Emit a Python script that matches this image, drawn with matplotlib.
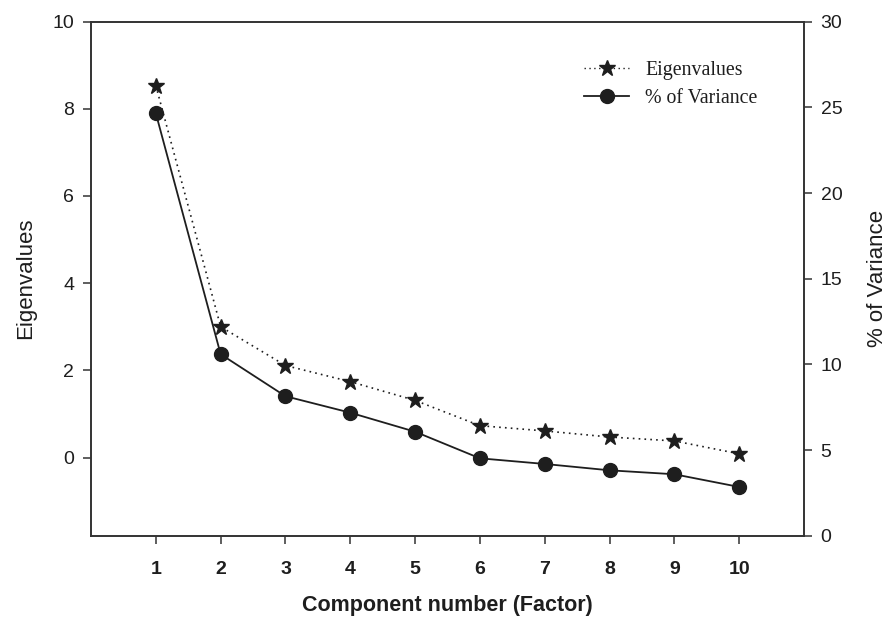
import numpy as np
import matplotlib.pyplot as plt
from matplotlib.lines import Line2D

# dati
componenti = [1, 2, 3, 4, 5, 6, 7, 8, 9, 10]
autovalori = [8.53, 3.0, 2.11, 1.74, 1.31, 0.73, 0.61, 0.47, 0.38, 0.085]
varianza = [24.65, 10.6, 8.15, 7.19, 6.08, 4.53, 4.2, 3.83, 3.6, 2.86]

plt.rcParams['font.family'] = ['Liberation Sans', 'DejaVu Sans']
colore = "#1e1e1e"

fig = plt.figure(figsize=(8.94, 6.18), dpi=100)
ax1 = fig.add_axes([0.1018, 0.1327, 0.7975, 0.8325])
ax2 = ax1.twinx()

ax1.plot(componenti, autovalori, linestyle=(0, (1, 2.5)), color=colore, lw=1.2,
         marker="*", markersize=12, markerfacecolor=colore, markeredgecolor=colore)
ax2.plot(componenti, varianza, linestyle="-", color=colore, lw=1.3,
         marker="o", markersize=10, markerfacecolor=colore, markeredgecolor=colore)

ax1.set_xlim(0, 11)
ax1.set_ylim(-1.8, 10)
ax2.set_ylim(0, 30)
ax1.set_xticks(componenti)
ax1.set_yticks([0, 2, 4, 6, 8, 10])
ax2.set_yticks([0, 5, 10, 15, 20, 25, 30])

for ax in (ax1, ax2):
    for s in ax.spines.values():
        s.set_color("#333333")
        s.set_linewidth(1.2)
    ax.tick_params(direction="out", length=6, width=1.1, color="#333333",
                   labelsize=14, labelcolor=colore, pad=6)
ax1.tick_params(axis="x", pad=12)

for lab in ax1.get_xticklabels():
    lab.set_fontweight("bold")

ax1.set_xlabel("Component number (Factor)", fontsize=15.5, fontweight="bold",
               color=colore, labelpad=12)
ax1.set_ylabel("Eigenvalues", fontsize=16, color=colore, labelpad=12)
ax2.set_ylabel("% of Variance", fontsize=16, color=colore, labelpad=18)

maniglie = [
    Line2D([], [], linestyle=(0, (1, 2.5)), color=colore, lw=1.0, marker="*",
           markersize=12),
    Line2D([], [], linestyle="-", color=colore, lw=1.3, marker="o",
           markersize=10),
]
leg = ax2.legend(maniglie, ["Eigenvalues", "% of Variance"], frameon=False,
                 loc="upper left", bbox_to_anchor=(0.666, 0.958), handlelength=2.3,
                 handletextpad=0.8, labelspacing=0.45,
                 prop={"family": "Liberation Serif", "size": 14.3})
for t in leg.get_texts():
    t.set_color(colore)

fig.savefig("out.png", dpi=100)
